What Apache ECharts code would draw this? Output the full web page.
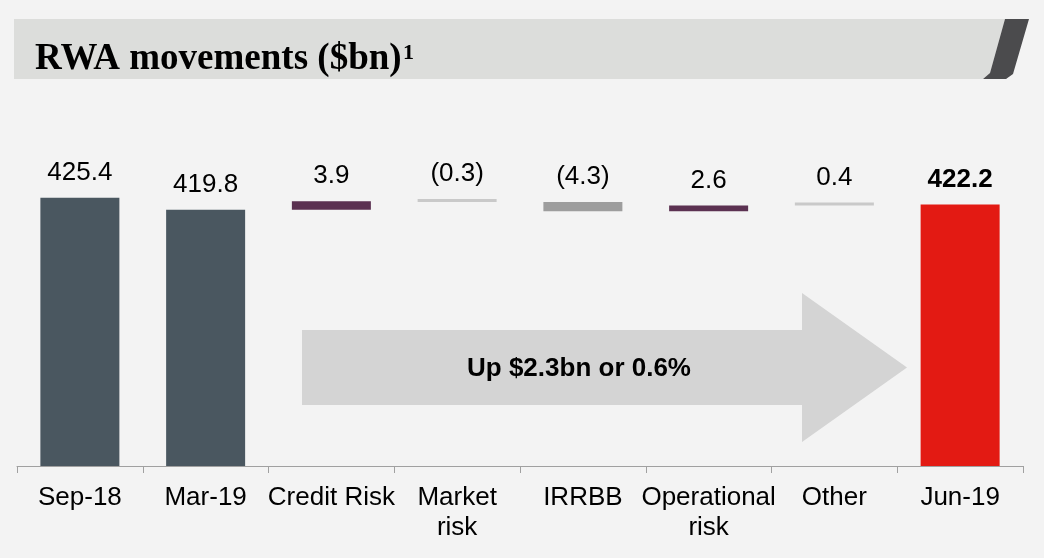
<!DOCTYPE html>
<html>
<head>
<meta charset="utf-8">
<script src="https://cdn.jsdelivr.net/npm/echarts@6/dist/echarts.min.js"></script>
<style>
  html, body { margin: 0; padding: 0; background: #f3f3f3; }
  #chart { width: 1044px; height: 558px; }
</style>
</head>
<body>
<div id="chart"></div>
<script>
// data
const categories = ['Sep-18', 'Mar-19', 'Credit Risk', 'Market\nrisk', 'IRRBB', 'Operational\nrisk', 'Other', 'Jun-19'];
const totals = [425.4, 419.8, null, null, null, null, null, 422.2];
const deltas = [null, null, 3.9, -0.3, -4.3, 2.6, 0.4, null];
const noteText = 'Up $2.3bn or 0.6%';

// bar colours, one per category
const colors = ['#4a5760', '#4a5760', '#5b3151', '#c9c9c9', '#9d9d9d', '#5b3151', '#c9c9c9', '#e31a13'];

// waterfall: invisible base + visible piece
let run = 0;
const baseVals = [];
const pieceVals = [];
categories.forEach(function (c, i) {
  if (totals[i] != null) {
    run = totals[i];
    baseVals.push(0);
    pieceVals.push(totals[i]);
  } else {
    const d = deltas[i];
    if (d >= 0) {
      baseVals.push(run);
      run += d;
    } else {
      run += d;
      baseVals.push(run);
    }
    pieceVals.push(Math.abs(d));
  }
});

function labelText(i) {
  if (totals[i] != null) return totals[i].toFixed(1);
  const d = deltas[i];
  return d < 0 ? '(' + Math.abs(d).toFixed(1) + ')' : d.toFixed(1);
}

const font = "'Liberation Sans', Arial, sans-serif";
const serif = "'Liberation Serif', 'Times New Roman', serif";

const option = {
  backgroundColor: '#f3f3f3',
  animation: false,
  grid: { left: 17, right: 21, top: 145, bottom: 92 },
  xAxis: {
    type: 'category',
    data: categories,
    axisLine: { lineStyle: { color: '#a0a0a0', width: 1 } },
    axisTick: { show: true, length: 7, lineStyle: { color: '#a0a0a0' } },
    axisLabel: {
      interval: 0,
      color: '#000',
      fontSize: 26,
      lineHeight: 30,
      margin: 17,
      fontFamily: font
    }
  },
  yAxis: { type: 'value', min: 300, max: 450, show: false },
  series: [
    {
      type: 'bar',
      stack: 'wf',
      barWidth: 79,
      silent: true,
      itemStyle: { color: 'transparent' },
      data: baseVals
    },
    {
      type: 'bar',
      stack: 'wf',
      barWidth: 79,
      barMinHeight: 3,
      label: {
        show: true,
        position: 'top',
        distance: 10,
        color: '#000',
        fontSize: 26,
        lineHeight: 30,
        fontFamily: font,
        formatter: function (p) { return labelText(p.dataIndex); }
      },
      data: pieceVals.map(function (v, i) {
        const item = { value: v, itemStyle: { color: colors[i] } };
        if (i === categories.length - 1) item.label = { fontWeight: 'bold' };
        return item;
      })
    }
  ],
  graphic: [
    // header band
    {
      type: 'polygon',
      shape: { points: [[14, 19], [1005, 19], [990, 73], [983, 79], [14, 79]] },
      style: { fill: '#dcdddb' }
    },
    {
      type: 'polygon',
      shape: { points: [[1005, 19], [1029, 19], [1013, 74], [1006, 79], [983, 79], [990, 73]] },
      style: { fill: '#4b4b4d' }
    },
    {
      type: 'text',
      x: 35, y: 59,
      style: {
        text: 'RWA movements ($bn)',
        font: 'bold 37px ' + serif,
        fill: '#000',
        verticalAlign: 'middle'
      }
    },
    {
      type: 'text',
      x: 403, y: 53,
      style: {
        text: '1',
        font: 'bold 22px ' + serif,
        fill: '#000',
        verticalAlign: 'middle'
      }
    },
    // arrow
    {
      type: 'polygon',
      z: -1,
      shape: { points: [[302, 330], [802, 330], [802, 293], [907, 367.5], [802, 442], [802, 405], [302, 405]] },
      style: { fill: '#d4d4d4' }
    },
    {
      type: 'text',
      x: 579, y: 369,
      style: {
        text: noteText,
        font: 'bold 26px ' + font,
        fill: '#000',
        align: 'center',
        verticalAlign: 'middle'
      }
    }
  ]
};

const myChart = echarts.init(document.getElementById('chart'));
myChart.setOption(option);
</script>
</body>
</html>
